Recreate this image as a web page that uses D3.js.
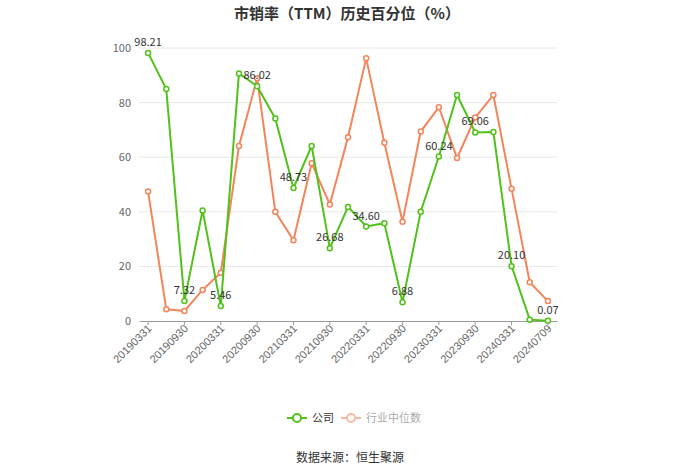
<!DOCTYPE html>
<html>
<head>
<meta charset="utf-8">
<script src="https://cdn.jsdelivr.net/npm/d3@7/dist/d3.min.js"></script>
<style>
  body { margin: 0; background: #fff; }
  svg { font-family: "Noto Sans CJK SC", "Noto Sans", sans-serif; }
</style>
</head>
<body>
<div id="chart"></div>
<script>
// categories (report dates)
var dates = ["20190331", "20190630", "20190930", "20191231", "20200331", "20200630", "20200930", "20201231",
             "20210331", "20210630", "20210930", "20211231", "20220331", "20220630", "20220930", "20221231",
             "20230331", "20230630", "20230930", "20231231", "20240331", "20240630", "20240709"];

// company percentile
var company = [98.21, 85.0, 7.32, 40.5, 5.46, 90.7, 86.02, 74.2, 48.73, 64.1, 26.68, 41.8,
               34.60, 35.8, 6.88, 40.0, 60.24, 82.8, 69.06, 69.2, 20.10, 0.5, 0.07];

// industry median percentile
var industry = [47.4, 4.3, 3.7, 11.4, 17.7, 64.1, 88.9, 40.0, 29.6, 57.8, 42.7, 67.3,
                96.2, 65.3, 36.4, 69.4, 78.3, 59.7, 74.5, 82.8, 48.4, 14.2, 7.3];

var yTicks = [0, 20, 40, 60, 80, 100];

var green = "#52c11a", orange = "#f4845a";

var W = 700, H = 474;
var svg = d3.select("#chart").append("svg")
    .attr("width", W)
    .attr("height", H);

var x = d3.scaleBand().domain(dates).range([139, 557]);
var y = d3.scaleLinear().domain([0, 100]).range([321, 48]);
function cx(d) { return x(d) + x.bandwidth() / 2; }

// title
svg.append("text")
    .attr("x", 347).attr("y", 19)
    .attr("text-anchor", "middle")
    .attr("font-size", "15px")
    .attr("font-weight", "bold")
    .attr("fill", "#333")
    .text("市销率（TTM）历史百分位（%）");

// grid lines
svg.selectAll("line.grid")
    .data(yTicks.slice(1))
    .enter()
    .append("line")
    .attr("class", "grid")
    .attr("x1", 139).attr("x2", 557)
    .attr("y1", function (d) { return y(d); })
    .attr("y2", function (d) { return y(d); })
    .attr("stroke", "#e8e8e8")
    .attr("stroke-width", 1);

// y axis labels
svg.selectAll("text.ylab")
    .data(yTicks)
    .enter()
    .append("text")
    .attr("class", "ylab")
    .attr("x", 131)
    .attr("y", function (d) { return y(d) + 4; })
    .attr("text-anchor", "end")
    .attr("font-size", "11px")
    .attr("fill", "#666")
    .text(function (d) { return d; });

// x axis
var xAxis = d3.axisBottom(x)
    .tickValues(dates.filter(function (d, i) { return i % 2 === 0; }))
    .tickSize(4)
    .tickSizeOuter(0);
var gx = svg.append("g")
    .attr("transform", "translate(0,321)")
    .call(xAxis);
gx.select(".domain").attr("stroke", "#999");
gx.selectAll(".tick line").attr("stroke", "#999");
gx.selectAll(".tick text")
    .attr("font-size", "11px")
    .attr("fill", "#666")
    .attr("text-anchor", "end")
    .attr("transform", "translate(3,4) rotate(-45)")
    .attr("dy", "0.35em")
    .attr("y", 0)
    .attr("x", -2);

// series
function drawSeries(data, color) {
    var line = d3.line()
        .x(function (d, i) { return cx(dates[i]); })
        .y(function (d) { return y(d); });
    svg.append("path")
        .datum(data)
        .attr("d", line)
        .attr("fill", "none")
        .attr("stroke", color)
        .attr("stroke-width", 2);
    svg.selectAll(null)
        .data(data)
        .enter()
        .append("circle")
        .attr("cx", function (d, i) { return cx(dates[i]); })
        .attr("cy", function (d) { return y(d); })
        .attr("r", 2.5)
        .attr("fill", "#fff")
        .attr("stroke", color)
        .attr("stroke-width", 1.5);
}
drawSeries(industry, orange);
drawSeries(company, green);

// company value labels, every other point
svg.selectAll("text.vlab")
    .data(company.map(function (v, i) { return [v, i]; }).filter(function (d) { return d[1] % 2 === 0; }))
    .enter()
    .append("text")
    .attr("class", "vlab")
    .attr("x", function (d) { return cx(dates[d[1]]); })
    .attr("y", function (d) { return y(d[0]) - 7; })
    .attr("text-anchor", "middle")
    .attr("font-size", "11px")
    .attr("fill", "#333")
    .text(function (d) { return d[0].toFixed(2); });

// legend
var legend = [
    { name: "公司", color: green, text: "#333", x: 287 },
    { name: "行业中位数", color: "#f5b9a3", text: "#aaa", x: 341 }
];
legend.forEach(function (l) {
    var g = svg.append("g").attr("transform", "translate(" + l.x + ",418)");
    g.append("line").attr("x1", 0).attr("x2", 20).attr("y1", 0).attr("y2", 0)
        .attr("stroke", l.color).attr("stroke-width", 2);
    g.append("circle").attr("cx", 10).attr("cy", 0).attr("r", 4)
        .attr("fill", "#fff").attr("stroke", l.color).attr("stroke-width", 2);
    g.append("text").attr("x", 25).attr("y", 4)
        .attr("font-size", "11px").attr("fill", l.text).text(l.name);
});

// source
svg.append("text")
    .attr("x", 350).attr("y", 462)
    .attr("text-anchor", "middle")
    .attr("font-size", "12px")
    .attr("fill", "#333")
    .text("数据来源：恒生聚源");
</script>
</body>
</html>
